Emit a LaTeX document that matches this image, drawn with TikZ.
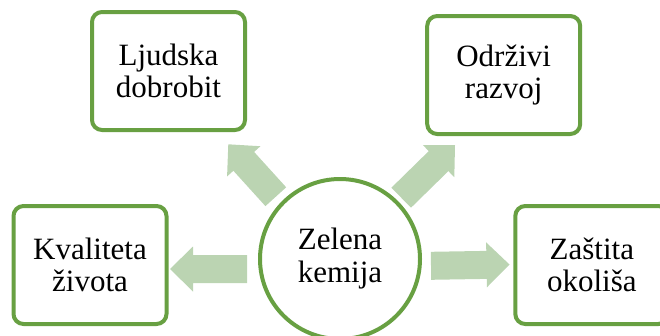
\documentclass[tikz,border=0pt]{standalone}
\usepackage{fontspec}
\setmainfont{Liberation Serif}
\usetikzlibrary{calc}
\definecolor{boxgreen}{RGB}{104,160,66}
\definecolor{arrowgreen}{RGB}{187,212,178}
\newcommand\greenarrow[2]{%
  \coordinate (#1-h) at ($(#2)!23pt!(#1)$);
  \fill[blockfill] ($(#1)!14pt!90:(#2)$) -- ($(#1-h)!14pt!90:(#2)$) -- ($(#1-h)!22.5pt!90:(#2)$) -- (#2)
    -- ($(#1-h)!22.5pt!-90:(#2)$) -- ($(#1-h)!14pt!-90:(#2)$) -- ($(#1)!14pt!-90:(#2)$) -- cycle;}
\begin{document}
\begin{tikzpicture}[x=1pt,y=-1pt,
  box/.style={draw=boxgreen, line width=4pt, rounded corners=10pt, fill=white,
    minimum width=153pt, minimum height=118pt, align=center, inner sep=0pt,
    font=\fontsize{31}{32}\selectfont},
  hub/.style={circle, draw=boxgreen, line width=4pt, fill=white, minimum size=160pt,
    align=center, inner sep=0pt, font=\fontsize{31}{33}\selectfont},
  blockfill/.style={fill=arrowgreen, draw=none}]
\useasboundingbox (0,0) rectangle (660,335);
\clip (0,0) rectangle (660,335);
\node[box] (ljud) at (168.5,71) {Ljudska\\dobrobit};
\node[box] (kval) at (90,265) {Kvaliteta\\života};
\node[box] (odr) at (503.7,75) {Održivi\\razvoj};
\node[box] (zast) at (591.8,265) {Zaštita\\okoliša};
\node[hub] (zk) at (340,259) {Zelena\\kemija};
% arrow end points
\coordinate (aL) at (247,269);   \coordinate (aLt) at (170,269);
\coordinate (aR) at (431,265.8); \coordinate (aRt) at (509.5,264.5);
\coordinate (aUL) at (275.8,196.7); \coordinate (aULt) at (228.3,144.3);
\coordinate (aUR) at (401.2,197.7); \coordinate (aURt) at (455,145);
\greenarrow{aL}{aLt}
\greenarrow{aR}{aRt}
\greenarrow{aUL}{aULt}
\greenarrow{aUR}{aURt}
\end{tikzpicture}
\end{document}
